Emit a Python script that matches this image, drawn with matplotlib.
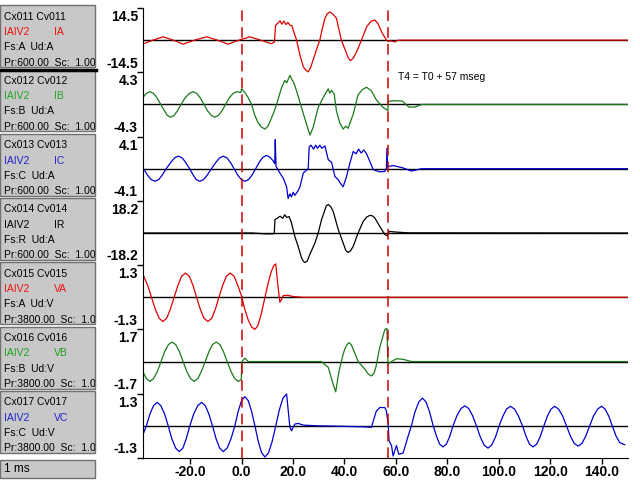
import matplotlib
matplotlib.use('Agg')
import matplotlib.pyplot as plt
from matplotlib.patches import Rectangle
from matplotlib.transforms import blended_transform_factory
import numpy as np

plt.rcParams['font.family'] = ['Liberation Sans', 'DejaVu Sans']

# ---------------- data (time in ms, values in channel units) ----------------
ia_t = [-38.3, -34.4, -30.5, -26.6, -22.7, -18.2, -13.6, -9.4, -5.2, -1.0, 3.2, 7.4, 11.6, 12.8, 13.2, 14.0, 15.0, 15.6,
        16.5, 17.3, 18.0, 18.8, 19.6, 20.3, 21.4, 22.7, 24.0, 25.0, 25.9, 26.8, 27.8, 29.2, 30.4, 31.4, 32.4, 33.3,
        34.3, 35.5, 36.9, 38.8, 40.8, 41.6, 42.4, 43.5, 44.7, 46.6, 48.6, 50.3, 51.8, 53.0, 54.4, 56.3, 57.0, 58.0,
        59.5, 61.0, 150.2]
ia_v = [-1.7, 0.0, 1.5, 0.0, -1.8, 0.0, 1.5, 0.0, -1.8, 0.0, 1.5, 0.0, -1.6, -0.8, 6.5, 7.6, 8.7, 7.2,
        8.6, 7.0, 8.0, 6.8, 6.5, 3.8, 0.0, -6.8, -12.0, -13.6, -14.3, -12.5, -9.0, -4.0, 0.0, 5.2, 9.8, 11.9,
        12.7, 11.8, 9.8, 0.0, -6.0, -8.3, -9.2, -8.0, -5.3, 0.0, 6.0, 8.5, 9.1, 7.5, 3.8, 0.0, -0.6, -0.3,
        -0.8, 0.0, 0.0]

ib_t = [-38.3, -37.0, -35.6, -34.2, -32.8, -31.4, -30.0, -28.8, -27.6, -26.2, -24.9, -23.5, -22.0, -20.3, -18.8,
        -17.4, -16.0, -14.6, -13.2, -11.8, -10.4, -9.0, -7.6, -6.2, -4.8, -3.3, -1.9, -0.3, 0.0, 1.5, 2.6, 3.9,
        5.0, 6.2, 7.6, 9.1, 10.3, 11.4, 12.5, 13.6, 15.5, 16.8, 17.6, 18.8, 19.6, 20.3, 21.4, 23.3, 25.3, 26.6,
        27.8, 29.8, 31.7, 33.7, 34.3, 35.0, 36.0, 36.9, 38.2, 39.5, 40.5, 41.4, 43.4, 45.3, 47.0, 48.6, 50.5,
        52.4, 55.0, 56.9, 57.1, 59.0, 62.5, 65.0, 67.4, 70.0, 150.2]
ib_v = [0.95, 1.47, 1.7, 1.47, 0.85, 0.0, -0.85, -1.47, -1.7, -1.47, -0.85, 0.0, 0.85, 1.47, 1.7,
        1.47, 0.85, 0.0, -0.85, -1.47, -1.7, -1.47, -0.85, 0.0, 0.85, 1.47, 1.7, 1.6, 2.1, 1.5, 0.9, 0.0,
        -1.3, -2.3, -3.0, -3.3, -2.9, -2.0, -1.1, 0.0, 2.2, 3.2, 2.9, 3.9, 3.3, 2.9, 1.8, -0.4, -2.7, -4.1,
        -3.1, -0.4, 0.9, 2.1, 1.5, 1.9, 1.4, -0.9, -2.5, -3.3, -2.9, -3.2, -1.3, 1.3, 2.0, 2.3, 1.8,
        0.6, -0.4, -0.8, 0.4, 0.5, 0.45, -0.35, -0.35, 0.0, 0.0]

ic_t = [-38.3, -36.6, -35.1, -33.7, -32.2, -30.8, -29.3, -27.5, -26.0, -24.6, -23.1, -21.7, -20.2, -18.8, -17.6,
        -16.2, -14.8, -13.3, -11.7, -10.0, -8.5, -7.1, -5.7, -4.3, -2.9, -1.5, -0.1, 1.3, 2.7, 4.1, 5.5, 6.9,
        8.3, 9.7, 11.1, 12.3, 12.9, 13.1, 13.4, 14.9, 16.2, 17.5, 18.1, 18.8, 19.4, 20.1, 20.7, 22.0, 22.7, 24.0,
        25.9, 26.3, 27.0, 28.0, 28.8, 29.5, 30.4, 31.2, 32.4, 33.7, 35.0, 36.3, 37.6, 38.5, 39.5, 40.8, 42.1,
        43.4, 44.5, 45.5, 46.5, 47.5, 48.6, 49.9, 51.2, 53.7, 55.7, 56.3, 56.5, 56.8, 57.2, 59.0, 62.8, 66.0,
        70.0, 150.2]
ic_v = [0.1, -0.8, -1.39, -1.6, -1.39, -0.8, 0.0, 0.8, 1.39, 1.6, 1.39, 0.8, 0.0, -0.8, -1.39,
        -1.6, -1.39, -0.8, 0.0, 0.8, 1.39, 1.6, 1.39, 0.8, 0.0, -0.8, -1.39, -1.6, -1.39, -0.8, 0.0, 0.85,
        1.45, 1.7, 1.45, 1.0, 0.65, 3.7, 0.3, -0.55, -1.2, -2.3, -3.8, -3.2, -3.6, -3.0, -3.4, -2.8, -2.3, -0.55,
        0.0, 2.8, 3.0, 2.5, 3.0, 2.6, 3.0, 2.6, 2.9, 1.15, 0.8, -1.0, -1.4, -1.9, -2.3, -1.0, 0.7,
        2.2, 1.9, 2.5, 2.0, 2.4, 1.9, 0.9, -0.13, -0.4, -0.35, 0.1, 2.6, 0.2, 0.3, 0.4, 0.1, -0.3,
        0.0, 0.0]

ir_t = [-38.3, 4.0, 9.7, 12.7, 13.0, 14.0, 15.0, 16.0, 16.8, 17.5, 18.5, 19.4, 20.7, 22.0, 23.3, 24.0, 24.6, 25.5,
        26.5, 28.5, 29.8, 31.1, 32.4, 32.9, 33.7, 34.6, 35.6, 37.6, 39.5, 40.5, 41.4, 42.3, 43.4, 45.3, 47.3,
        48.6, 49.9, 50.9, 51.8, 53.7, 55.7, 56.6, 57.4, 60.2, 65.0, 150.2]
ir_v = [0.0, 0.0, -0.5, -0.4, 7.6, 8.5, 9.5, 8.3, 10.4, 8.8, 9.3, 5.7, -1.9, -7.6, -14.0, -16.0, -16.7, -16.0,
        -12.3, -5.7, 0.0, 7.6, 13.0, 15.3, 16.1, 15.0, 12.3, 1.9, -5.7, -9.8, -11.0, -10.2, -7.6, 0.0, 6.6,
        9.0, 10.0, 9.7, 8.5, 3.8, -0.9, -1.5, 0.9, 0.5, 0.1, 0.0]

va_t = [-38.3, -36.5, -35.0, -33.5, -32.0, -30.6, -29.1, -27.7, -26.2, -24.7, -23.3, -21.8, -20.3, -18.9, -17.5,
        -16.0, -14.6, -13.1, -11.6, -10.2, -8.8, -7.3, -5.9, -4.4, -2.9, -1.5, 0.0, 1.3, 2.6, 3.9, 5.2, 6.3, 7.6,
        9.1, 10.4, 11.6, 12.5, 13.3, 14.0, 14.9, 15.5, 16.2, 18.0, 20.1, 24.0, 150.2]
va_v = [0.92, 0.49, 0.0, -0.49, -0.85, -0.98, -0.85, -0.49, 0.0, 0.49, 0.85, 0.98, 0.85, 0.49, 0.0,
        -0.49, -0.85, -0.98, -0.85, -0.49, 0.0, 0.49, 0.85, 0.98, 0.85, 0.49, 0.05, -0.5, -0.92, -1.2, -1.3, -1.15, -0.7,
        0.0, 0.6, 1.05, 1.28, 1.35, 0.6, -0.2, -0.1, 0.07, 0.08, 0.03, 0.0, 0.0]

vb_t = [-38.3, -37.0, -35.6, -34.2, -32.7, -31.3, -29.9, -28.4, -27.0, -25.6, -24.1, -22.7, -21.3, -19.8, -18.4,
        -17.0, -15.6, -14.1, -12.7, -11.3, -9.85, -8.4, -7.0, -5.6, -4.1, -2.7, -1.3, -0.1, 0.1, 1.3, 2.6, 31.0,
        33.7, 35.6, 36.6, 37.9, 38.8, 39.4, 40.1, 41.0, 41.8, 42.6, 43.4, 44.3, 45.3, 47.9, 49.2, 50.5, 51.5, 52.2,
        53.7, 55.7, 56.5, 56.9, 58.3, 60.2, 62.8, 66.0, 150.2]
vb_v = [-0.55, -0.9, -1.05, -0.9, -0.52, 0.0, 0.52, 0.9, 1.03, 0.9, 0.52, 0.0, -0.52, -0.9, -1.05,
        -0.9, -0.52, 0.0, 0.52, 0.9, 1.03, 0.9, 0.52, 0.0, -0.52, -0.9, -1.05, -0.95, 0.0, 0.18, 0.0, 0.0,
        -0.3, -1.2, -1.6, -0.5, 0.0, 0.35, 0.65, 0.9, 1.0, 0.9, 0.65, 0.35, 0.0, -0.4, -0.65, -0.76, -0.6, -0.3,
        0.74, 1.7, 1.75, -0.14, 0.0, 0.15, 0.12, 0.0, 0.0]

vc_t = [-38.3, -37.0, -35.6, -34.2, -32.8, -31.4, -29.9, -28.5, -27.1, -25.6, -24.2, -22.8, -21.5, -20.1,
        -18.6, -17.0, -15.5, -14.1, -12.7, -11.3, -9.9, -8.5, -7.1, -5.6, -4.1, -2.6, -1.3, 0.0, 1.3, 2.6, 3.9,
        5.2, 6.5, 7.8, 9.1, 10.5, 11.9, 13.3, 14.7, 16.1, 17.5, 18.8, 19.4, 20.7, 22.0, 24.0, 30.0, 40.0, 48.0,
        50.5, 51.2, 52.4, 53.7, 55.7, 56.3, 57.0, 57.3, 58.3, 58.9, 60.2, 61.1, 62.8, 64.5,
        66.0, 67.4, 68.9, 70.3, 71.7, 73.1, 74.5, 75.8, 77.0, 78.3, 79.6, 80.9, 82.2,
        83.7, 85.3, 86.8, 88.3, 89.8, 91.3, 92.8, 94.3, 95.8, 97.2, 98.7, 100.1,
        101.6, 103.0, 104.5, 106.1, 107.6, 109.2, 110.6, 111.9, 113.3, 114.7, 116.1, 117.5,
        118.9, 120.3, 121.7, 123.2, 124.8, 126.3, 127.8, 129.3, 130.8, 132.3, 133.8, 135.3,
        136.8, 138.4, 139.9, 141.3, 142.7, 144.1, 145.5, 147.0, 148.9]
vc_v = [-0.35, 0.0, 0.48, 0.82, 0.95, 0.82, 0.48, 0.0, -0.52, -0.9, -1.04, -0.9, -0.52, 0.0,
        0.48, 0.82, 0.95, 0.82, 0.48, 0.0, -0.52, -0.9, -1.04, -0.9, -0.52, 0.0, 0.59, 1.02, 1.18, 1.02, 0.59,
        0.0, -0.63, -1.09, -1.26, -1.09, -0.63, 0.0, 0.65, 1.12, 1.29, -0.06, -0.2, 0.07, 0.1, 0.03, 0.0, -0.02, -0.04,
        -0.06, 0.2, 0.6, 0.74, 0.74, 0.6, 0.05, -0.6, -0.8, -1.22, -0.8, -1.15, -1.1, -0.5,
        0.0, 0.56, 0.97, 1.12, 0.97, 0.56, 0.0, -0.43, -0.74, -0.85, -0.74, -0.43, 0.0,
        0.41, 0.7, 0.81, 0.7, 0.41, 0.0, -0.45, -0.78, -0.9, -0.78, -0.45, 0.0,
        0.4, 0.68, 0.79, 0.68, 0.4, 0.0, -0.43, -0.74, -0.85, -0.74, -0.43, 0.0,
        0.4, 0.68, 0.79, 0.68, 0.4, 0.0, -0.41, -0.71, -0.82, -0.71, -0.41, 0.0,
        0.4, 0.68, 0.79, 0.68, 0.4, 0.0, -0.4, -0.68, -0.76]

ch_names = ['IA', 'IB', 'IC', 'IR', 'VA', 'VB', 'VC']
ch_codes = ['Cx011 Cv011', 'Cx012 Cv012', 'Cx013 Cv013', 'Cx014 Cv014', 'Cx015 Cv015', 'Cx016 Cv016', 'Cx017 Cv017']
ch_fs = ['A', 'B', 'C', 'R', 'A', 'B', 'C']
ch_ud = ['A', 'A', 'A', 'A', 'V', 'V', 'V']
ch_pr = ['600.00', '600.00', '600.00', '600.00', '3800.00', '3800.00', '3800.00']
ch_scale = [14.5, 4.3, 4.1, 18.2, 1.3, 1.7, 1.3]
ch_t = [ia_t, ib_t, ic_t, ir_t, va_t, vb_t, vc_t]
ch_v = [ia_v, ib_v, ic_v, ir_v, va_v, vb_v, vc_v]
x_ticks = [-20, 0, 20, 40, 60, 80, 100, 120, 140]
markers_t = [0.0, 57.0]
marker_text = 'T4 = T0 + 57 mseg'

trace_col = ['#dd0000', '#1a7a1a', '#0000cc', '#000000', '#dd0000', '#1a7a1a', '#0000cc']
label_col = ['#ee1111', '#22a022', '#2222cc', '#000000', '#ee1111', '#22a022', '#2222cc']

# ---------------- figure ----------------
fig = plt.figure(figsize=(6.4, 4.8), dpi=100)
bg = fig.add_axes([0, 0, 1, 1])
bg.set_xlim(0, 640)
bg.set_ylim(480, 0)
bg.axis('off')

# left info boxes
for i in range(7):
    top = 5 + 64.3 * i
    rect = Rectangle((0, top), 95, 62, facecolor='#c8c8c8', edgecolor='#707070', lw=1)
    bg.add_patch(rect)
    ty = top + 11.5
    kw = dict(fontsize=7.5, va='center', ha='left', clip_on=True)
    t1 = bg.text(4, ty, ch_codes[i], color='black', **kw)
    t2 = bg.text(4, ty + 15.5, 'IAIV2', color=label_col[i], **kw)
    t3 = bg.text(54, ty + 15.5, ch_names[i], color=label_col[i], **kw)
    t4 = bg.text(4, ty + 30.5, 'Fs:%s  Ud:%s' % (ch_fs[i], ch_ud[i]), color='black', **kw)
    t5 = bg.text(4, ty + 46, 'Pr:%s  Sc:  1.00' % ch_pr[i], color='black', **kw)
    for tt in (t1, t2, t3, t4, t5):
        tt.set_clip_path(rect)
bg.plot([0, 96], [69.5, 69.5], color='black', lw=2.5)

rect = Rectangle((0, 460), 95, 18, facecolor='#c8c8c8', edgecolor='#707070', lw=1)
bg.add_patch(rect)
bg.text(4, 469.5, '1 ms', fontsize=8.5, va='center', ha='left')

# main plot
T0, T1 = -38.3, 150.2
ax = fig.add_axes([143 / 640, 22 / 480, 485 / 640, 450 / 480])
ax.set_xlim(T0, T1)
ax.set_ylim(-6.5, 0.5)
ax.patch.set_alpha(0)

for i in range(7):
    ax.axhline(-i, color='black', lw=1, zorder=1)
    y = -i + np.asarray(ch_v[i]) / ch_scale[i] * 0.5
    ax.plot(ch_t[i], y, color=trace_col[i], lw=0.9, zorder=2)

for mt in markers_t:
    ax.axvline(mt, color='#cc0000', lw=1.1, dashes=(7, 4), zorder=3)

ax.spines['top'].set_visible(False)
ax.spines['right'].set_visible(False)
ax.spines['left'].set_color('black')
ax.spines['bottom'].set_color('black')

ax.set_xticks(x_ticks)
ax.set_xticklabels(['%.1f' % v for v in x_ticks], fontweight='bold', fontsize=10)
ax.tick_params(axis='x', direction='out', length=4, width=1, pad=1)
ax.set_yticks([0.5 - k for k in range(8)])
ax.set_yticklabels([])
ax.tick_params(axis='y', direction='out', length=4, width=1)

trans = blended_transform_factory(bg.transData, ax.transData)
for i in range(7):
    s = ch_scale[i]
    bg.text(138, -i + 0.36, '%.1f' % s, transform=trans, ha='right', va='center',
            fontsize=10, fontweight='bold')
    bg.text(138, -i - 0.365, '%.1f' % -s, transform=trans, ha='right', va='center',
            fontsize=10, fontweight='bold')

bg.text(398, 77, marker_text, fontsize=7.5, ha='left', va='center')

fig.savefig('out.png', dpi=100)
